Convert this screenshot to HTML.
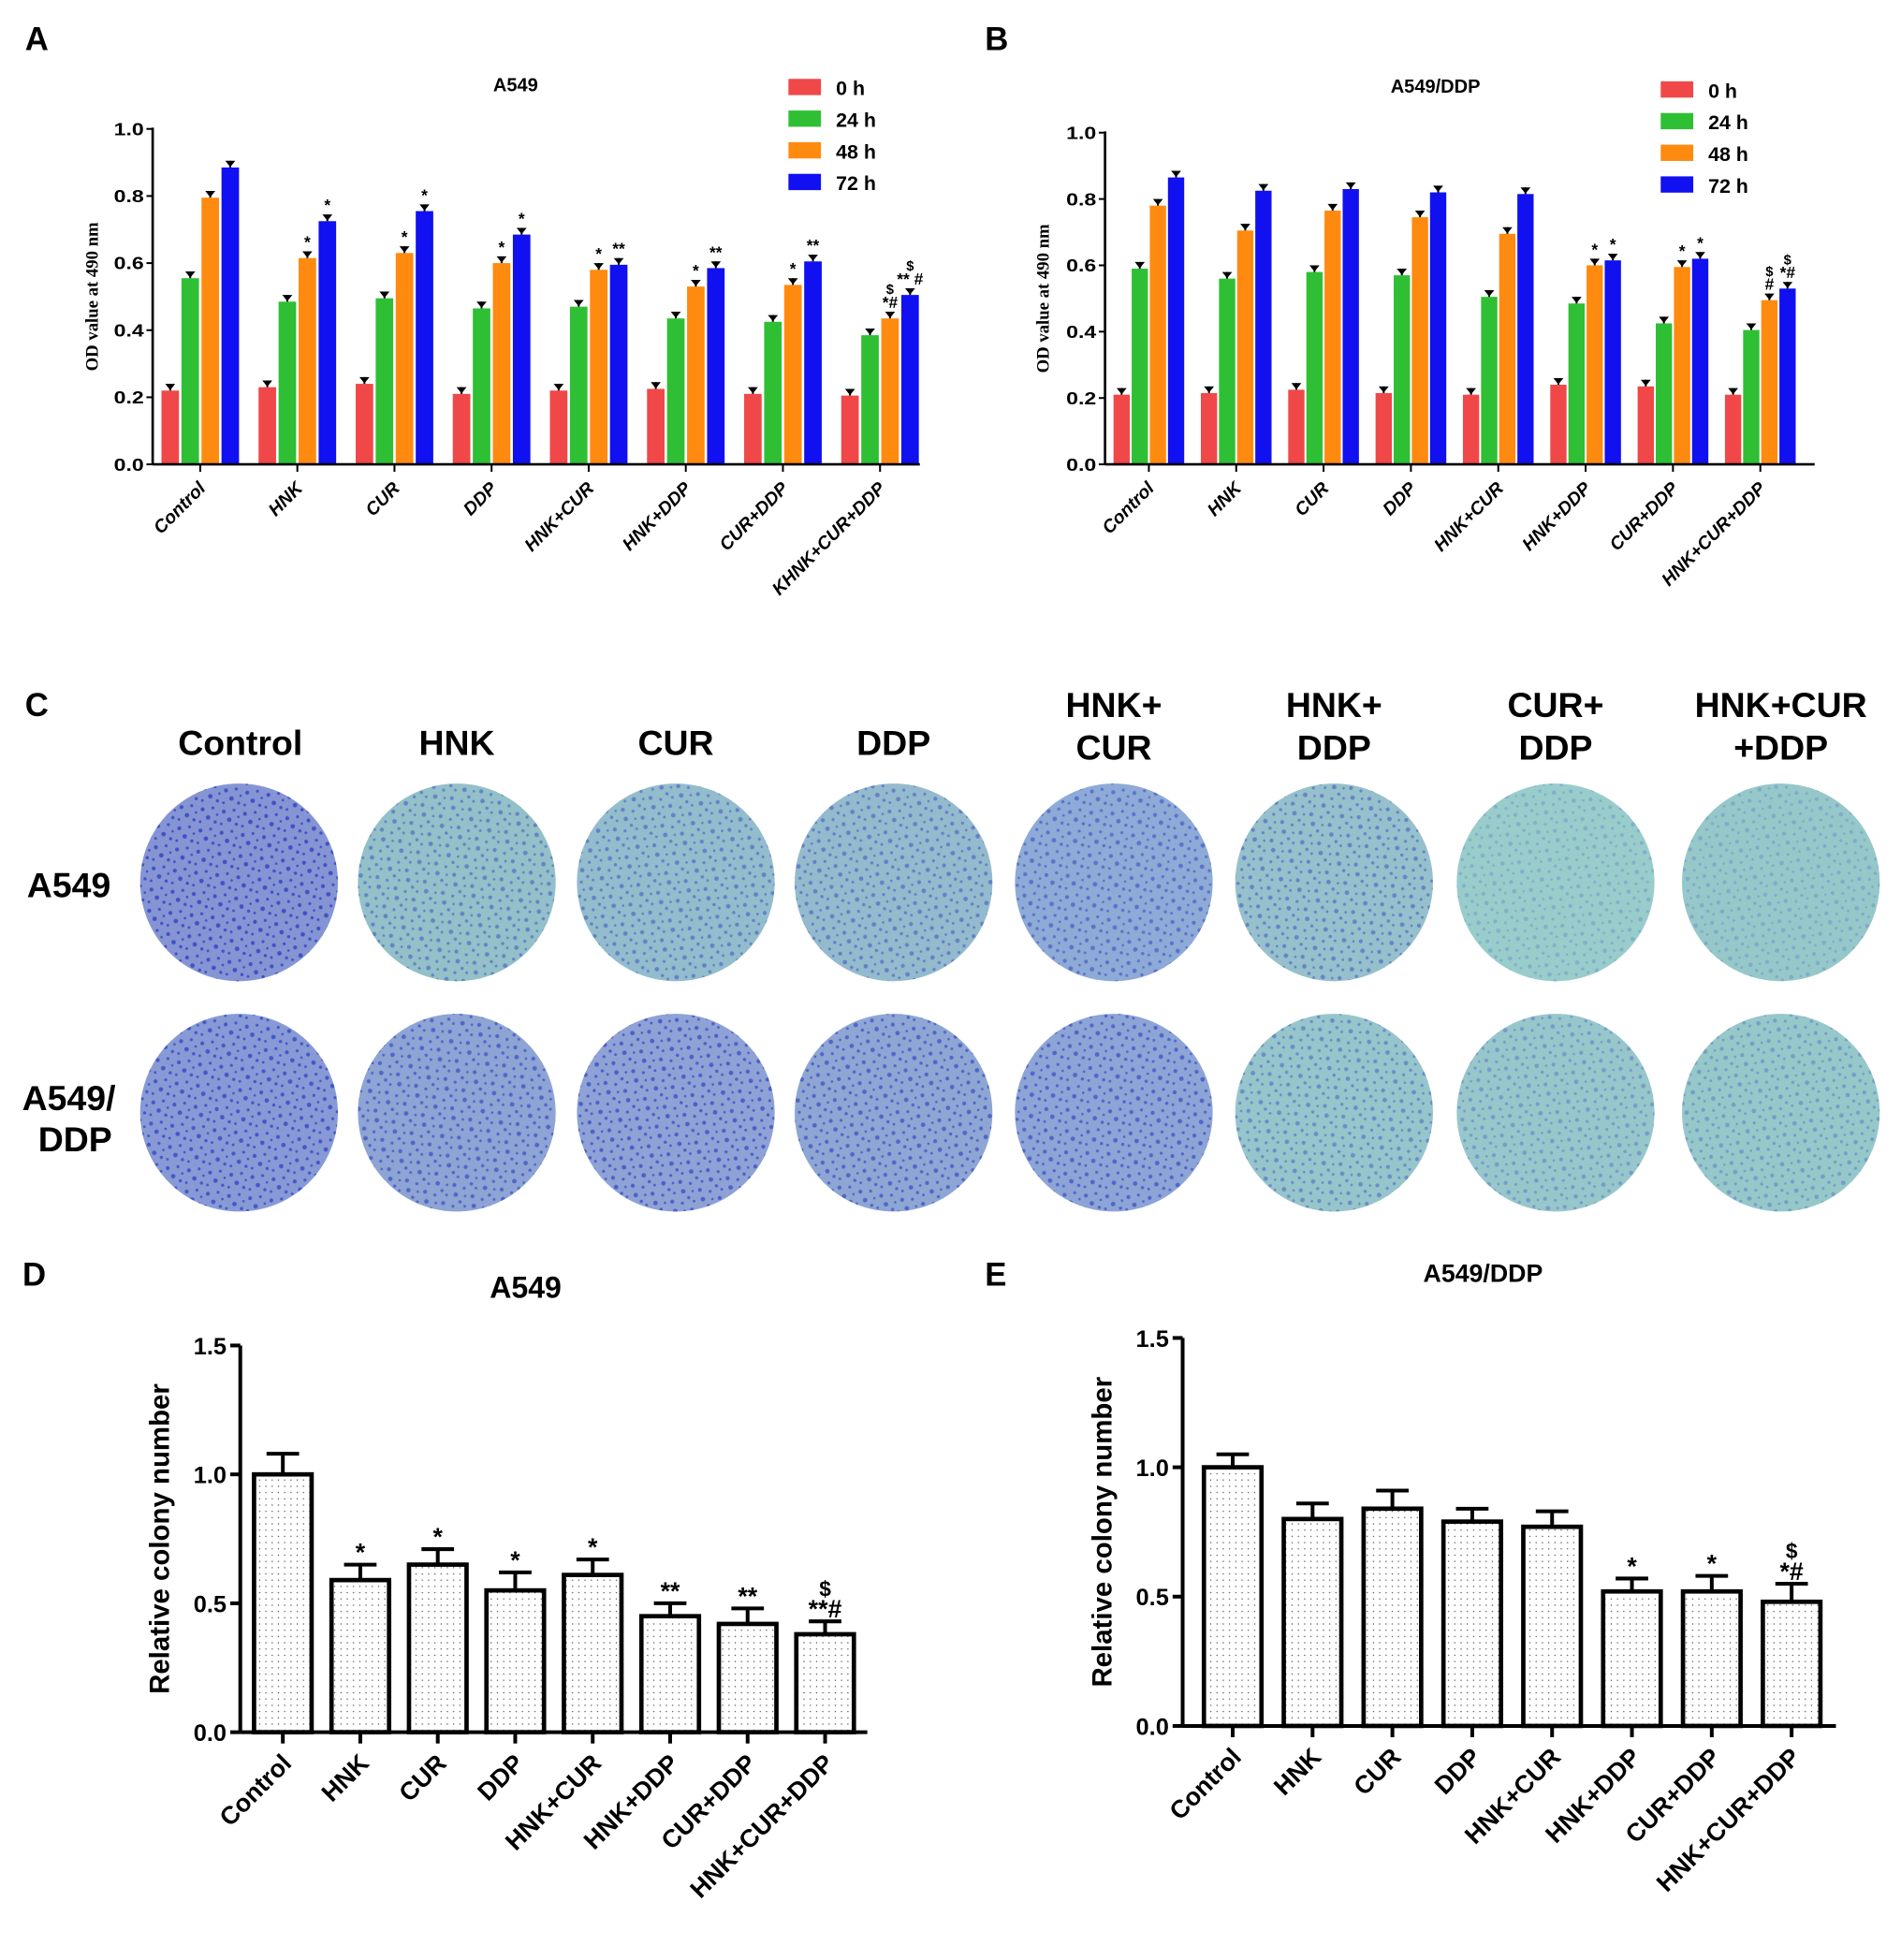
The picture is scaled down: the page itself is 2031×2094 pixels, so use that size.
<!DOCTYPE html>
<html><head><meta charset="utf-8"><style>
html,body{margin:0;padding:0;background:#fff}
svg{display:block}
text{font-family:"Liberation Sans",sans-serif}
</style></head><body>
<svg id="fig" width="2031" height="2094" viewBox="0 0 1519 1566" preserveAspectRatio="none" xmlns="http://www.w3.org/2000/svg">
<defs>
<pattern id="dots" width="5" height="5" patternUnits="userSpaceOnUse"><circle cx="2.5" cy="2.5" r="0.55" fill="#555"/></pattern>
<pattern id="speck" width="17" height="17" patternUnits="userSpaceOnUse">
<circle cx="3" cy="4" r="1.6" fill="#2a3cc0"/><circle cx="11" cy="2" r="1.2" fill="#2a3cc0"/><circle cx="8" cy="10" r="1.8" fill="#2a3cc0"/><circle cx="14" cy="13" r="1.3" fill="#2a3cc0"/><circle cx="2" cy="14" r="1.1" fill="#2a3cc0"/><circle cx="15" cy="7" r="1" fill="#2a3cc0"/>
</pattern>
</defs>
<g id="root"></g>
</svg>
<script>
const NS="http://www.w3.org/2000/svg";
const root=document.getElementById('root');
function el(tag,attrs,parent,txt){const e=document.createElementNS(NS,tag);for(const k in attrs)e.setAttribute(k,attrs[k]);if(txt!==undefined)e.textContent=txt;(parent||root).appendChild(e);return e;}

// ---------- Data panels A/B ----------
const categoriesAB=["Control","HNK","CUR","DDP","HNK+CUR","HNK+DDP","CUR+DDP","KHNK+CUR+DDP"];
const categoriesB=["Control","HNK","CUR","DDP","HNK+CUR","HNK+DDP","CUR+DDP","HNK+CUR+DDP"];
const seriesNames=["0 h","24 h","48 h","72 h"];
const seriesColors=["#f04848","#2fbf35","#ff8a10","#1010f0"];
const a0h=[0.22,0.23,0.24,0.21,0.22,0.225,0.21,0.205];
const a24h=[0.555,0.485,0.495,0.465,0.47,0.435,0.425,0.385];
const a48h=[0.795,0.615,0.63,0.60,0.58,0.53,0.535,0.435];
const a72h=[0.885,0.725,0.755,0.685,0.595,0.585,0.605,0.505];
const aSig48=["","*","*","*","*","*","*","$\n*#"];
const aSig72=["","*","*","*","**","**","**","$\n** #"];
const b0h=[0.21,0.215,0.225,0.215,0.21,0.24,0.235,0.21];
const b24h=[0.59,0.56,0.58,0.57,0.505,0.485,0.425,0.405];
const b48h=[0.78,0.705,0.765,0.745,0.695,0.60,0.595,0.495];
const b72h=[0.865,0.825,0.83,0.82,0.815,0.615,0.62,0.53];
const bSig48=["","","","","","*","*","$\n#"];
const bSig72=["","","","","","*","*","$\n*#"];
const ticksAB=[0,0.2,0.4,0.6,0.8,1.0];
// ---------- Data panels D/E ----------
const categoriesDE=["Control","HNK","CUR","DDP","HNK+CUR","HNK+DDP","CUR+DDP","HNK+CUR+DDP"];
const dVals=[1.0,0.59,0.65,0.55,0.61,0.45,0.42,0.38];
const dErr=[0.08,0.06,0.06,0.07,0.06,0.05,0.06,0.05];
const dSig=["","*","*","*","*","**","**","$\n**#"];
const eVals=[1.0,0.80,0.84,0.79,0.77,0.52,0.52,0.48];
const eErr=[0.05,0.06,0.07,0.05,0.06,0.05,0.06,0.07];
const eSig=["","","","","","*","*","$\n*#"];
const ticksDE=[0,0.5,1.0,1.5];

function sigText(g,x,yTop,s,fs,name){
  if(!s)return;
  const lines=s.split("\n");
  lines.reverse().forEach((ln,i)=>{
    const small=ln==="$";
    const t=el('text',{x:x,y:yTop-i*fs*0.85,'font-size':small?fs*0.85:fs,'text-anchor':'middle','font-weight':'bold'},g,ln);
    
    
  });
}

function groupedChart(o){
  const g=el('g',{});
  
  
  const y=v=>o.y0-(v/1.0)*(o.y0-o.y1);
  const x=i=>o.c0+i*o.step;
  const t=el('text',{x:o.titleX,y:o.titleY,'font-size':15,'font-weight':'bold','text-anchor':'middle'},g,o.title);
  
  const data=[o.s0,o.s1,o.s2,o.s3];
  const offs=[-1.5,-0.5,0.5,1.5];
  data.forEach((arr,si)=>{
    arr.forEach((v,ci)=>{
      const cx=x(ci)+offs[si]*o.pitch;
      const r=el('rect',{x:cx-o.bw/2,y:y(v),width:o.bw,height:o.y0-y(v),fill:seriesColors[si]},g);
      
      
      const ey=y(v+0.02);
      el('line',{x1:cx,x2:cx,y1:y(v),y2:ey,stroke:'#000','stroke-width':1.5},g);
      el('path',{d:`M${cx-4},${ey} L${cx+4},${ey} L${cx},${ey+5} Z`,fill:'#000'},g);
      if(si===2&&o.sig48[ci])sigText(g,cx,ey-3,o.sig48[ci],13,'significance-mark');
      if(si===3&&o.sig72[ci])sigText(g,cx,ey-3,o.sig72[ci],13,'significance-mark');
    });
  });
  el('line',{x1:o.ax,x2:o.ax,y1:o.y1-1,y2:o.y0,stroke:'#000','stroke-width':2},g);
  el('line',{x1:o.ax,x2:o.xEnd,y1:o.y0,y2:o.y0,stroke:'#000','stroke-width':2},g);
  ticksAB.forEach(tv=>{
    el('line',{x1:o.ax-5,x2:o.ax,y1:y(tv),y2:y(tv),stroke:'#000','stroke-width':1.5},g);
    const tt=el('text',{x:o.ax-7,y:y(tv)+5,'font-size':14,'font-weight':'bold','text-anchor':'end','textLength':24,'lengthAdjust':'spacingAndGlyphs'},g,tv.toFixed(1));
    
  });
  o.cats.forEach((c,ci)=>{
    el('line',{x1:x(ci),x2:x(ci),y1:o.y0,y2:o.y0+6,stroke:'#000','stroke-width':1.5},g);
    const tt=el('text',{x:x(ci)+5,y:o.y0+20,'font-size':14.5,'font-weight':'bold','font-style':'italic','text-anchor':'end',transform:`rotate(-45 ${x(ci)+5} ${o.y0+20})`},g,c);
    
  });
  const yl=el('text',{x:0,y:0,'font-size':14,'font-weight':'bold','text-anchor':'middle',style:'font-family:"Liberation Serif",serif',transform:`translate(${o.ylx},${(o.y0+o.y1)/2}) rotate(-90)`},g,'OD value at 490 nm');
  
  seriesNames.forEach((n,i)=>{
    const lr=el('rect',{x:o.lx,y:o.ly+i*25.3,width:26,height:13,fill:seriesColors[i]},g);
    
    const lt=el('text',{x:o.lx+38,y:o.ly+i*25.3+13,'font-size':16,'font-weight':'bold'},g,n);
    
  });
}

groupedChart({name:'panel-a-chart',title:'A549',titleX:412,titleY:73,cats:categoriesAB,s0:a0h,s1:a24h,s2:a48h,s3:a72h,sig48:aSig48,sig72:aSig72,
  ax:122,xEnd:735,y0:371,y1:103,c0:160,step:77.6,pitch:16,bw:14,ylx:78,lx:630,ly:63});
groupedChart({name:'panel-b-chart',title:'A549/DDP',titleX:1147,titleY:74,cats:categoriesB,s0:b0h,s1:b24h,s2:b48h,s3:b72h,sig48:bSig48,sig72:bSig72,
  ax:883,xEnd:1450,y0:371,y1:106,c0:918,step:69.8,pitch:14.5,bw:13,ylx:838,lx:1327,ly:65});

function barChart(o){
  const g=el('g',{});
  
  
  const y=v=>o.y0-(v/1.5)*(o.y0-o.y1);
  const x=i=>o.c0+i*o.step;
  const t=el('text',{x:o.titleX,y:o.titleY,'font-size':o.titleFs,'font-weight':'bold','text-anchor':'middle'},g,o.title);
  
  o.vals.forEach((v,i)=>{
    const cx=x(i);
    const ey=y(v+o.err[i]);
    el('line',{x1:cx,x2:cx,y1:y(v),y2:ey,stroke:'#000','stroke-width':3},g);
    el('line',{x1:cx-13,x2:cx+13,y1:ey,y2:ey,stroke:'#000','stroke-width':3},g);
    const r=el('rect',{x:cx-o.bw/2,y:y(v),width:o.bw,height:o.y0-y(v),fill:'url(#dots)',stroke:'#000','stroke-width':3.5},g);
    
    
    if(o.sig[i])sigText(g,cx,ey-3,o.sig[i],20,'significance-mark');
  });
  el('line',{x1:o.ax,x2:o.ax,y1:o.y1,y2:o.y0,stroke:'#000','stroke-width':3},g);
  el('line',{x1:o.ax,x2:o.xEnd,y1:o.y0,y2:o.y0,stroke:'#000','stroke-width':3},g);
  ticksDE.forEach(tv=>{
    el('line',{x1:o.ax-8,x2:o.ax,y1:y(tv),y2:y(tv),stroke:'#000','stroke-width':3},g);
    const tt=el('text',{x:o.ax-11,y:y(tv)+7,'font-size':19,'font-weight':'bold','text-anchor':'end'},g,tv.toFixed(1));
    
  });
  categoriesDE.forEach((c,i)=>{
    el('line',{x1:x(i),x2:x(i),y1:o.y0,y2:o.y0+9,stroke:'#000','stroke-width':3},g);
    const tt=el('text',{x:x(i)+8,y:o.y0+26,'font-size':20,'font-weight':'bold','text-anchor':'end',transform:`rotate(-45 ${x(i)+8} ${o.y0+26})`},g,c);
    
  });
  const yl=el('text',{x:0,y:0,'font-size':22,'font-weight':'bold','text-anchor':'middle',transform:`translate(${o.ylx},${(o.y0+o.y1)/2}) rotate(-90)`},g,'Relative colony number');
  
}
barChart({name:'panel-d-chart',title:'A549',titleX:420,titleY:1037,titleFs:24,vals:dVals,err:dErr,sig:dSig,ax:192,xEnd:693,y0:1384,y1:1075,c0:226,step:61.9,bw:46,ylx:135});
barChart({name:'panel-e-chart',title:'A549/DDP',titleX:1185,titleY:1024,titleFs:20,vals:eVals,err:eErr,sig:eSig,ax:945,xEnd:1467,y0:1379,y1:1069,c0:985,step:63.8,bw:46,ylx:888});

[["A",20,40],["B",787,40],["C",20,572],["D",18,1027],["E",787,1027]].forEach(p=>{
  const t=el('text',{x:p[1],y:p[2],'font-size':26,'font-weight':'bold'},root,p[0]);
  
  
});

// ---------- Panel C ----------
const colHeaders=[["Control"],["HNK"],["CUR"],["DDP"],["HNK+","CUR"],["HNK+","DDP"],["CUR+","DDP"],["HNK+CUR","+DDP"]];
const colX=[191,365,540,714,890,1066,1243,1423];
const row1Fill=["#8595d4","#93c0c9","#93bccd","#94bacd","#8eaad6","#96c0cc","#99cdcb","#96c8ca"];
const row1Speck=[0.75,0.45,0.45,0.45,0.5,0.45,0.2,0.2];
const row2Fill=["#889ad6","#8da4d4","#8ea2d6","#8ea6d4","#8da4d6","#96c5cb","#97c7cb","#96c8ca"];
const row2Speck=[0.7,0.6,0.65,0.6,0.6,0.4,0.3,0.3];
colHeaders.forEach((h,i)=>{
  const y0=h.length===1?603:573;
  h.forEach((ln,j)=>{
    const t=el('text',{x:colX[i]+(i===0?1:0),y:y0+j*34,'font-size':28,'font-weight':'bold','text-anchor':'middle'},root,ln);
    
    
  });
});
[["A549",717],["A549/",887],["DDP",920]].forEach((r,i)=>{
  const t=el('text',{x:i===2?60:55,y:r[1],'font-size':28,'font-weight':'bold','text-anchor':'middle'},root,r[0]);
  
  
});
function dish(cx,cy,fill,sp,name){
  const g=el('g',{});
  
  
  el('circle',{cx:cx,cy:cy,r:79,fill:fill},g);
  el('circle',{cx:cx,cy:cy,r:79,fill:'url(#speck)',opacity:sp,transform:`rotate(${cx%37} ${cx} ${cy})`},g);
}
colX.forEach((cx,i)=>{
  dish(cx,705,row1Fill[i],row1Speck[i],'colony-dish-a549-'+i);
  dish(cx,889,row2Fill[i],row2Speck[i],'colony-dish-a549ddp-'+i);
});
</script>
</body></html>
